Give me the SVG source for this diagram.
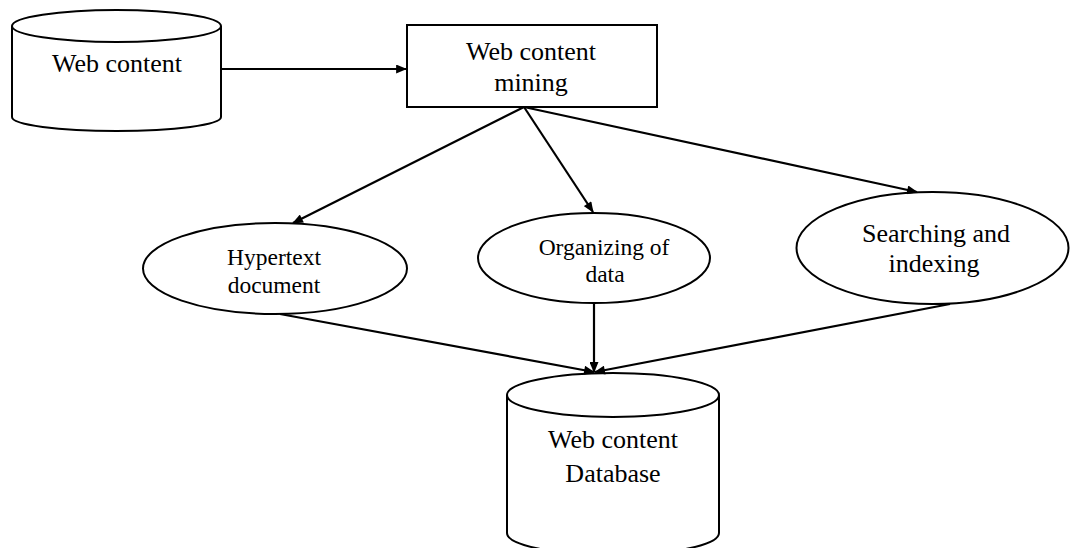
<svg xmlns="http://www.w3.org/2000/svg" width="1070" height="548" viewBox="0 0 1070 548">
<style>
.s{fill:#fff;stroke:#000;stroke-width:2}
.t{font-family:"Liberation Serif","Times New Roman",serif;fill:#000;text-anchor:middle}
.c{stroke:#000;stroke-width:2.2;fill:none;marker-end:url(#ah)}
</style>
<defs>
<marker id="ah" viewBox="0 0 12 10" refX="11" refY="5" markerWidth="12" markerHeight="9" markerUnits="userSpaceOnUse" orient="auto">
<path d="M0,0 L12,5 L0,10 Z" fill="#000"/>
</marker>
</defs>
<rect width="1070" height="548" fill="#fff"/>
<g id="web-content">
<path class="s" d="M12,26 L12,117 A104.5,14 0 0 0 221,117 L221,26 A104.5,16 0 0 0 12,26 Z"/>
<path class="s" fill="none" d="M12,26 A104.5,16 0 0 0 221,26"/>
<text class="t" x="117" y="72" font-size="26">Web content</text>
</g>
<g id="mining">
<rect class="s" x="407" y="25" width="250" height="82"/>
<text class="t" x="531" y="60" font-size="26">Web content</text>
<text class="t" x="531" y="91" font-size="26">mining</text>
</g>
<g id="hypertext">
<ellipse class="s" cx="275" cy="268.5" rx="132" ry="45.5"/>
<text class="t" x="274" y="265" font-size="23.5">Hypertext</text>
<text class="t" x="274" y="293" font-size="23.5">document</text>
</g>
<g id="organizing">
<ellipse class="s" cx="594" cy="258" rx="116" ry="45"/>
<text class="t" x="604" y="255" font-size="23.5">Organizing of</text>
<text class="t" x="605" y="282" font-size="23.5">data</text>
</g>
<g id="searching">
<ellipse class="s" cx="932.5" cy="248" rx="136" ry="56"/>
<text class="t" x="936" y="242" font-size="26">Searching and</text>
<text class="t" x="934" y="272" font-size="26">indexing</text>
</g>
<g id="database">
<path class="s" d="M507,395 L507,533 A106,22 0 0 0 719,533 L719,395 A106,22 0 0 0 507,395 Z"/>
<path class="s" fill="none" d="M507,395 A106,22 0 0 0 719,395"/>
<text class="t" x="613" y="448" font-size="26">Web content</text>
<text class="t" x="613" y="482" font-size="26">Database</text>
</g>
<g id="connectors">
<line class="c" x1="221" y1="69" x2="406" y2="69"/>
<line class="c" x1="524" y1="107" x2="293" y2="223"/>
<line class="c" x1="524" y1="107" x2="593" y2="212"/>
<line class="c" x1="524" y1="107" x2="917" y2="192"/>
<line class="c" x1="280" y1="314" x2="594" y2="372"/>
<line class="c" x1="594" y1="303" x2="594" y2="372"/>
<line class="c" x1="950" y1="304" x2="595" y2="372"/>
</g>
</svg>
